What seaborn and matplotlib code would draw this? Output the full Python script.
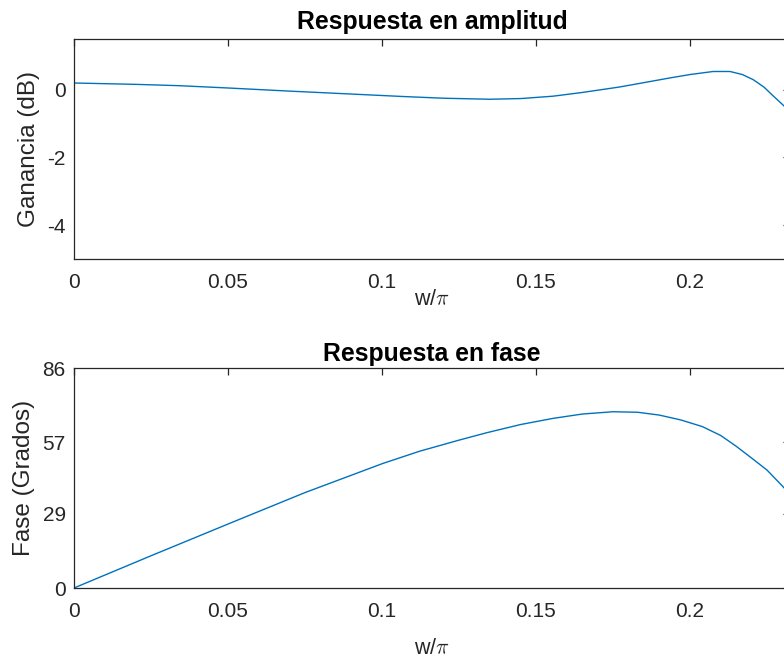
import numpy as np
import pandas as pd
import matplotlib
matplotlib.use("Agg")
import matplotlib.pyplot as plt
import seaborn as sns

# ---- data ----
w_amp = [0.0, 0.02, 0.0344, 0.0506, 0.070, 0.0886, 0.107, 0.12, 0.135, 0.145,
         0.1555, 0.165, 0.177, 0.185, 0.1935, 0.200, 0.2075, 0.213, 0.217,
         0.2205, 0.224, 0.227, 0.2302, 0.2325]
gain_db = [0.20, 0.16, 0.12, 0.05, -0.04, -0.12, -0.20, -0.25, -0.28, -0.26,
           -0.19, -0.08, 0.08, 0.21, 0.35, 0.45, 0.54, 0.54, 0.45,
           0.30, 0.08, -0.18, -0.45, -0.65]

w_phase = [0.0, 0.025, 0.0506, 0.075, 0.1003, 0.1123, 0.125, 0.134, 0.145,
           0.1555, 0.165, 0.175, 0.183, 0.190, 0.197, 0.204, 0.210, 0.215,
           0.220, 0.225, 0.2302, 0.2325]
phase_deg = [0.0, 12.6, 25.3, 37.3, 48.7, 53.5, 57.8, 60.7, 63.9,
             66.3, 68.0, 68.9, 68.7, 67.6, 65.7, 63.1, 59.6, 55.4,
             50.8, 46.1, 39.6, 36.5]

x_ticks = [0, 0.05, 0.1, 0.15, 0.2]
x_ticklabels = ["0", "0.05", "0.1", "0.15", "0.2"]
amp_yticks = [-4, -2, 0]
amp_yticklabels = ["-4", "-2", "0"]
phase_yticks = [0, 29, 57, 86]
phase_yticklabels = ["0", "29", "57", "86"]

titles = ["Respuesta en amplitud", "Respuesta en fase"]
ylabels = ["Ganancia (dB)", "Fase (Grados)"]
xlabel = r"w/$\pi$"

# ---- styling ----
sns.set_theme(style="white")
plt.rcParams["font.family"] = ["Liberation Sans", "DejaVu Sans"]
plt.rcParams["mathtext.fontset"] = "cm"

line_color = "#0072BD"
axis_color = "#262626"

fig = plt.figure(figsize=(7.84, 6.58), dpi=100)
fig.patch.set_facecolor("white")

W, H = 784, 658
left_px, right_px = 74, 790
pos_top = [left_px / W, 1 - 259 / H, (right_px - left_px) / W, 220 / H]
pos_bot = [left_px / W, 1 - 588 / H, (right_px - left_px) / W, 220 / H]

ax1 = fig.add_axes(pos_top)
ax2 = fig.add_axes(pos_bot)

df_amp = pd.DataFrame({"w": w_amp, "g": gain_db})
df_ph = pd.DataFrame({"w": w_phase, "p": phase_deg})

sns.lineplot(data=df_amp, x="w", y="g", ax=ax1, color=line_color, linewidth=1.0)
sns.lineplot(data=df_ph, x="w", y="p", ax=ax2, color=line_color, linewidth=1.0)

xmax = (right_px - left_px) / 3080.0
axw = right_px - left_px

for ax, title, ylab, yt, ytl, ylim, ylab_right, tpad, xlpad in [
    (ax1, titles[0], ylabels[0], amp_yticks, amp_yticklabels, (-5, 1.5), 40, 7, -2),
    (ax2, titles[1], ylabels[1], phase_yticks, phase_yticklabels, (0, 86), 35, 5, 12),
]:
    ax.set_xlim(0, xmax)
    ax.set_ylim(*ylim)
    ax.set_xticks(x_ticks)
    ax.set_xticklabels(x_ticklabels)
    ax.set_yticks(yt)
    ax.set_yticklabels(ytl)
    ax.set_title(title, fontsize=17.8, fontweight="bold", color="black", pad=tpad)
    ax.set_ylabel(ylab, fontsize=17.5, color=axis_color)
    ax.yaxis.set_label_coords((ylab_right - left_px) / axw, 0.5)
    ax.set_xlabel(xlabel, fontsize=15.5, color=axis_color, labelpad=xlpad)
    for s in ax.spines.values():
        s.set_visible(True)
        s.set_color(axis_color)
        s.set_linewidth(0.9)
    ax.tick_params(axis="both", which="both", direction="in", length=5,
                   width=0.9, color=axis_color, labelcolor=axis_color,
                   labelsize=15, top=True, right=True)
    ax.tick_params(axis="x", pad=10)
    ax.tick_params(axis="y", pad=6)
    ax.set_facecolor("white")
    ax.grid(False)

fig.savefig("out.png", dpi=100, facecolor="white")
